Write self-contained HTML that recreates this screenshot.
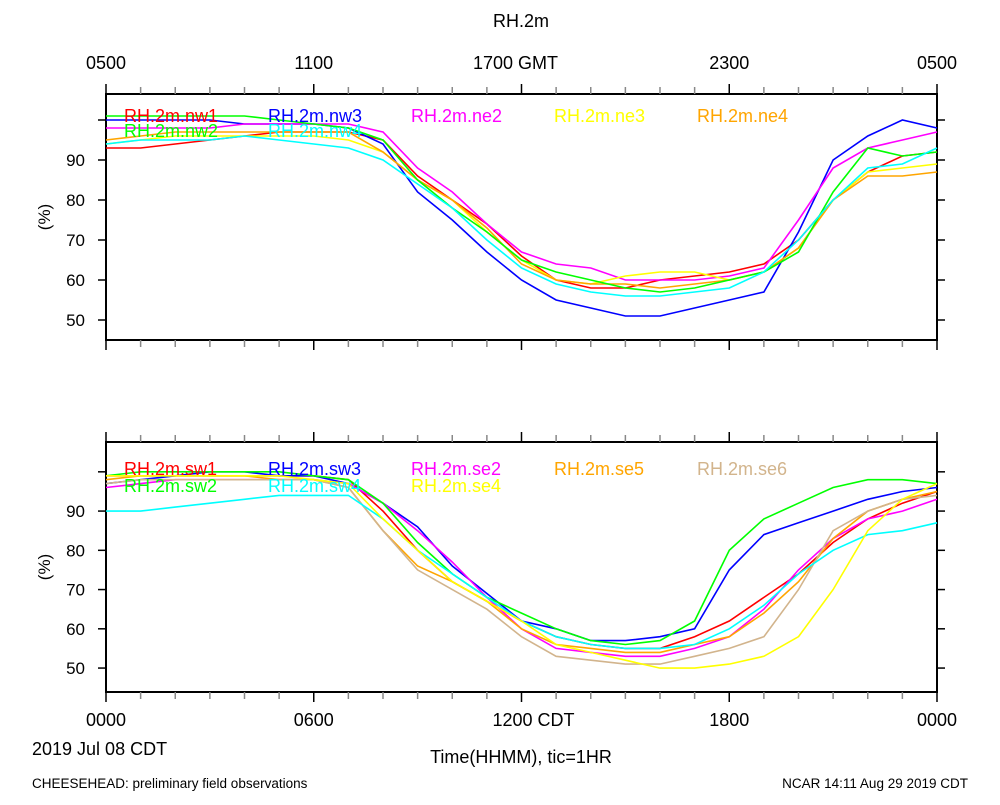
<!DOCTYPE html>
<html><head><meta charset="utf-8"><style>
body{margin:0;background:#fff;}
svg text{font-family:"Liberation Sans",sans-serif;}
</style></head><body>
<svg id="c" width="1000" height="800" xmlns="http://www.w3.org/2000/svg"></svg>
<script>
const hours=[0,1,2,3,4,5,6,7,8,9,10,11,12,13,14,15,16,17,18,19,20,21,22,23,24];
const topNames=["RH.2m.nw1","RH.2m.nw3","RH.2m.ne2","RH.2m.ne3","RH.2m.ne4","RH.2m.nw2","RH.2m.nw4"];
const topColors=["#ff0000","#0000ff","#ff00ff","#ffff00","#ffa500","#00ff00","#00ffff"];
const nw1=[93,93,94,95,96,97,97,97,95,86,80,74,66,60,58,58,60,61,62,64,70,80,87,91,92];
const nw3=[100,100,100,100,99,99,99,98,94,82,75,67,60,55,53,51,51,53,55,57,72,90,96,100,98];
const ne2=[98,98,98,98,99,99,99,99,97,88,82,74,67,64,63,60,60,60,61,63,75,88,93,95,97];
const ne3=[94,95,96,96,96,96,96,95,92,85,80,72,65,60,59,61,62,62,60,62,68,80,87,88,89];
const ne4=[95,96,97,97,97,97,97,97,92,85,80,73,64,60,59,59,58,59,60,62,68,80,86,86,87];
const nw2=[101,101,101,101,101,100,99,98,95,85,78,72,65,62,60,58,57,58,60,62,67,82,93,91,92];
const nw4=[94,95,95,95,96,95,94,93,90,84,78,70,63,59,57,56,56,57,58,62,70,80,88,89,93];
const topSeries=[nw1,nw3,ne2,ne3,ne4,nw2,nw4];
const botNames=["RH.2m.sw1","RH.2m.sw3","RH.2m.se2","RH.2m.se5","RH.2m.se6","RH.2m.sw2","RH.2m.sw4","RH.2m.se4"];
const botColors=["#ff0000","#0000ff","#ff00ff","#ffa500","#d2b48c","#00ff00","#00ffff","#ffff00"];
const sw1=[99,99,99,99,99,99,99,98,90,80,72,67,62,58,56,55,55,58,62,68,74,82,88,92,95];
const sw3=[97,98,99,100,100,99,99,97,92,86,76,69,62,60,57,57,58,60,75,84,87,90,93,95,96];
const se2=[96,97,98,98,98,98,98,97,92,85,77,68,60,55,54,53,53,55,58,65,75,83,88,90,93];
const se5=[98,99,99,99,99,98,98,96,85,76,72,67,60,56,55,54,54,56,58,64,72,83,90,93,95];
const se6=[97,98,98,98,98,98,98,96,85,75,70,65,58,53,52,51,51,53,55,58,70,85,90,93,94];
const sw2=[99,100,100,100,100,100,99,98,92,82,74,68,64,60,57,56,57,62,80,88,92,96,98,98,97];
const sw4=[90,90,91,92,93,94,94,94,88,80,74,68,62,58,56,55,55,56,60,66,74,80,84,85,87];
const se4=[99,99,99,99,99,99,98,97,88,80,72,67,62,56,54,52,50,50,51,53,58,70,85,93,97];
const botSeries=[sw1,sw3,se2,se5,se6,sw2,sw4,se4];
const yTicks=[50,60,70,80,90];

const svg=document.getElementById('c');
const NS="http://www.w3.org/2000/svg";
function el(t,a,p){const e=document.createElementNS(NS,t);for(const k in a)e.setAttribute(k,a[k]);(p||svg).appendChild(e);return e;}
const X0=106,X1=937;
const xs=h=>X0+(X1-X0)*h/24;

function panel(y0,y1,vTop,vBot,names,colors,series,legendPos,pname){
  const g=el('g',{});
  
  
  const ys=v=>y1-(v-vBot)*(y1-y0)/(vTop-vBot);
  el('rect',{x:X0,y:y0,width:X1-X0,height:y1-y0,fill:'none',stroke:'#000','stroke-width':2},g);
  for(let h=0;h<=24;h++){
    const x=xs(h),maj=h%6==0;
    el('line',{x1:x,x2:x,y1:y0,y2:y0-(maj?10:7),stroke:maj?'#000':'#888','stroke-width':1.5},g);
    el('line',{x1:x,x2:x,y1:y1,y2:y1+(maj?10:7),stroke:maj?'#000':'#888','stroke-width':1.5},g);
  }
  for(let v=50;v<=100;v+=10){
    el('line',{x1:X0,x2:X0-8,y1:ys(v),y2:ys(v),stroke:'#000','stroke-width':1.5},g);
    el('line',{x1:X1,x2:X1+8,y1:ys(v),y2:ys(v),stroke:'#000','stroke-width':1.5},g);
  }
  yTicks.forEach(v=>{const t=el('text',{x:85,y:ys(v)+6,'text-anchor':'end','font-size':17},g);t.textContent=v;
    });
  const yl=el('text',{x:0,y:0,'font-size':17,'text-anchor':'middle',transform:`translate(50,${(y0+y1)/2}) rotate(-90)`},g);
  yl.textContent='(%)';
  
  
  series.forEach((s,i)=>{
    const d=s.map((v,j)=>(j?'L':'M')+xs(hours[j]).toFixed(1)+','+ys(v).toFixed(1)).join('');
    const p=el('path',{d:d,fill:'none',stroke:colors[i],'stroke-width':1.6},g);
    
    
  });
  names.forEach((n,i)=>{
    const t=el('text',{x:legendPos[i][0],y:legendPos[i][1],'font-size':18,fill:colors[i]},g);
    t.textContent=n;
    
    
  });
}
panel(94,340,106.5,45,topNames,topColors,topSeries,[[124,122],[268,122],[411,122],[554,122],[697,122],[124,137],[268,137]],'top-panel');
panel(442,692,107.6,43.9,botNames,botColors,botSeries,[[124,475],[268,475],[411,475],[554,475],[697,475],[124,492],[268,492],[411,492]],'bottom-panel');

function txt(x,y,s,size,anchor,name){const t=el('text',{x:x,y:y,'font-size':size,'text-anchor':anchor||'start'});t.textContent=s;
  return t;}
txt(521,27,'RH.2m',18,'middle','chart-title');
const topLabels=['0500','1100','1700 GMT','2300','0500'];
topLabels.forEach((s,i)=>txt(xs(i*6)+(i==2?-6:0),69,s,18,'middle','top-x-tick-label'));
const botLabels=['0000','0600','1200 CDT','1800','0000'];
botLabels.forEach((s,i)=>txt(xs(i*6)+(i==2?12:0),726,s,18,'middle','bottom-x-tick-label'));
txt(32,755,'2019 Jul 08 CDT',18,'start','date-label');
txt(521,763,'Time(HHMM), tic=1HR',18,'middle','x-axis-title');
txt(32,788,'CHEESEHEAD: preliminary field observations',13.5,'start','footer-left');
txt(968,788,'NCAR 14:11 Aug 29 2019 CDT',13.5,'end','footer-right');
</script>
</body></html>
